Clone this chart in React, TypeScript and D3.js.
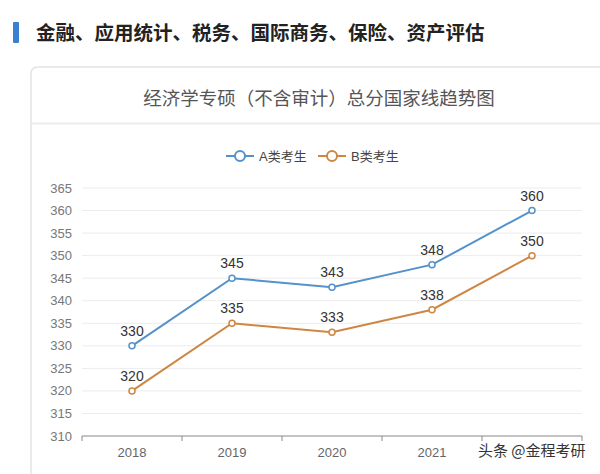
import React from "react";
import * as d3 from "d3";

const years = ["2018", "2019", "2020", "2021", "2022"];
const seriesA = [330, 345, 343, 348, 360];
const seriesB = [320, 335, 333, 338, 350];
const yTicks = [310, 315, 320, 325, 330, 335, 340, 345, 350, 355, 360, 365];
const seriesNames = ["A类考生", "B类考生"];
const colors = ["#5592cb", "#cf8642"];

export default function App() {
  const W = 600, H = 474;
  const x = d3.scaleBand<string>().domain(years).range([82, 582]);
  const y = d3.scaleLinear().domain([310, 365]).range([436, 188]);
  const cx = (d: string) => (x(d) as number) + x.bandwidth() / 2;
  const line = d3.line<number>().x((_, i) => cx(years[i])).y((v) => y(v));
  const font = "'Liberation Sans', 'Noto Sans CJK SC', sans-serif";
  const cjk = "'Noto Sans CJK SC', sans-serif";
  const series = [seriesA, seriesB];
  const legendX = [240, 332];

  return (
    <svg width={W} height={H} style={{ position: "absolute", left: 0, top: 0, background: "#fff" }} fontFamily={font}>
      <rect x={0} y={0} width={W} height={H} fill="#fff" />
      {/* header */}
      <rect x={13} y={22} width={6} height={21} fill="#3b7fd0" rx={1} />
      <text x={36} y={40} fontSize={19.5} fontWeight="bold" fill="#222" fontFamily={cjk}>金融、应用统计、税务、国际商务、保险、资产评估</text>
      {/* card */}
      <path d="M 31 480 L 31 74 Q 31 67 38 67 L 602 67" fill="none" stroke="#e4e4e4" strokeWidth={1.5} />
      <line x1={32} x2={600} y1={123.5} y2={123.5} stroke="#ececec" strokeWidth={2} />
      <text x={319} y={105} textAnchor="middle" fontSize={18.5} fill="#555" fontFamily={cjk}>经济学专硕（不含审计）总分国家线趋势图</text>
      {/* legend */}
      {seriesNames.map((n, i) => (
        <g key={n}>
          <line x1={legendX[i] - 14} x2={legendX[i] + 14} y1={156} y2={156} stroke={colors[i]} strokeWidth={2} />
          <circle cx={legendX[i]} cy={156} r={5} fill="#fff" stroke={colors[i]} strokeWidth={2} />
          <text x={legendX[i] + 19} y={161} fontSize={13} fill="#444">{n}</text>
        </g>
      ))}
      {/* grid & y labels */}
      {yTicks.map((t) => (
        <g key={t}>
          {t !== 310 && <line x1={82} x2={582} y1={y(t)} y2={y(t)} stroke="#ececec" strokeWidth={1} />}
          <text x={72} y={y(t) + 4.5} textAnchor="end" fontSize={13} fill="#777">{t}</text>
        </g>
      ))}
      {/* x axis */}
      <line x1={82} x2={582} y1={436} y2={436} stroke="#888" strokeWidth={1} />
      {[...years.map((d) => x(d) as number), 582].map((p, i) => (
        <line key={i} x1={p} x2={p} y1={436} y2={441} stroke="#888" strokeWidth={1} />
      ))}
      {years.slice(0, 4).map((d) => (
        <text key={d} x={cx(d)} y={457} textAnchor="middle" fontSize={13} fill="#666">{d}</text>
      ))}
      {/* series */}
      {series.map((s, si) => (
        <g key={si}>
          <path d={line(s) as string} fill="none" stroke={colors[si]} strokeWidth={2} />
          {s.map((v, i) => (
            <g key={i}>
              <circle cx={cx(years[i])} cy={y(v)} r={3} fill="#fff" stroke={colors[si]} strokeWidth={1.5} />
              <text x={cx(years[i])} y={y(v) - 10} textAnchor="middle" fontSize={14} fill="#333">{v}</text>
            </g>
          ))}
        </g>
      ))}
      {/* watermark */}
      <text x={478} y={456} fontSize={15} fill="#333" stroke="#fff" strokeWidth={3} paintOrder="stroke" fontFamily={cjk}>头条 @金程考研</text>
    </svg>
  );
}
